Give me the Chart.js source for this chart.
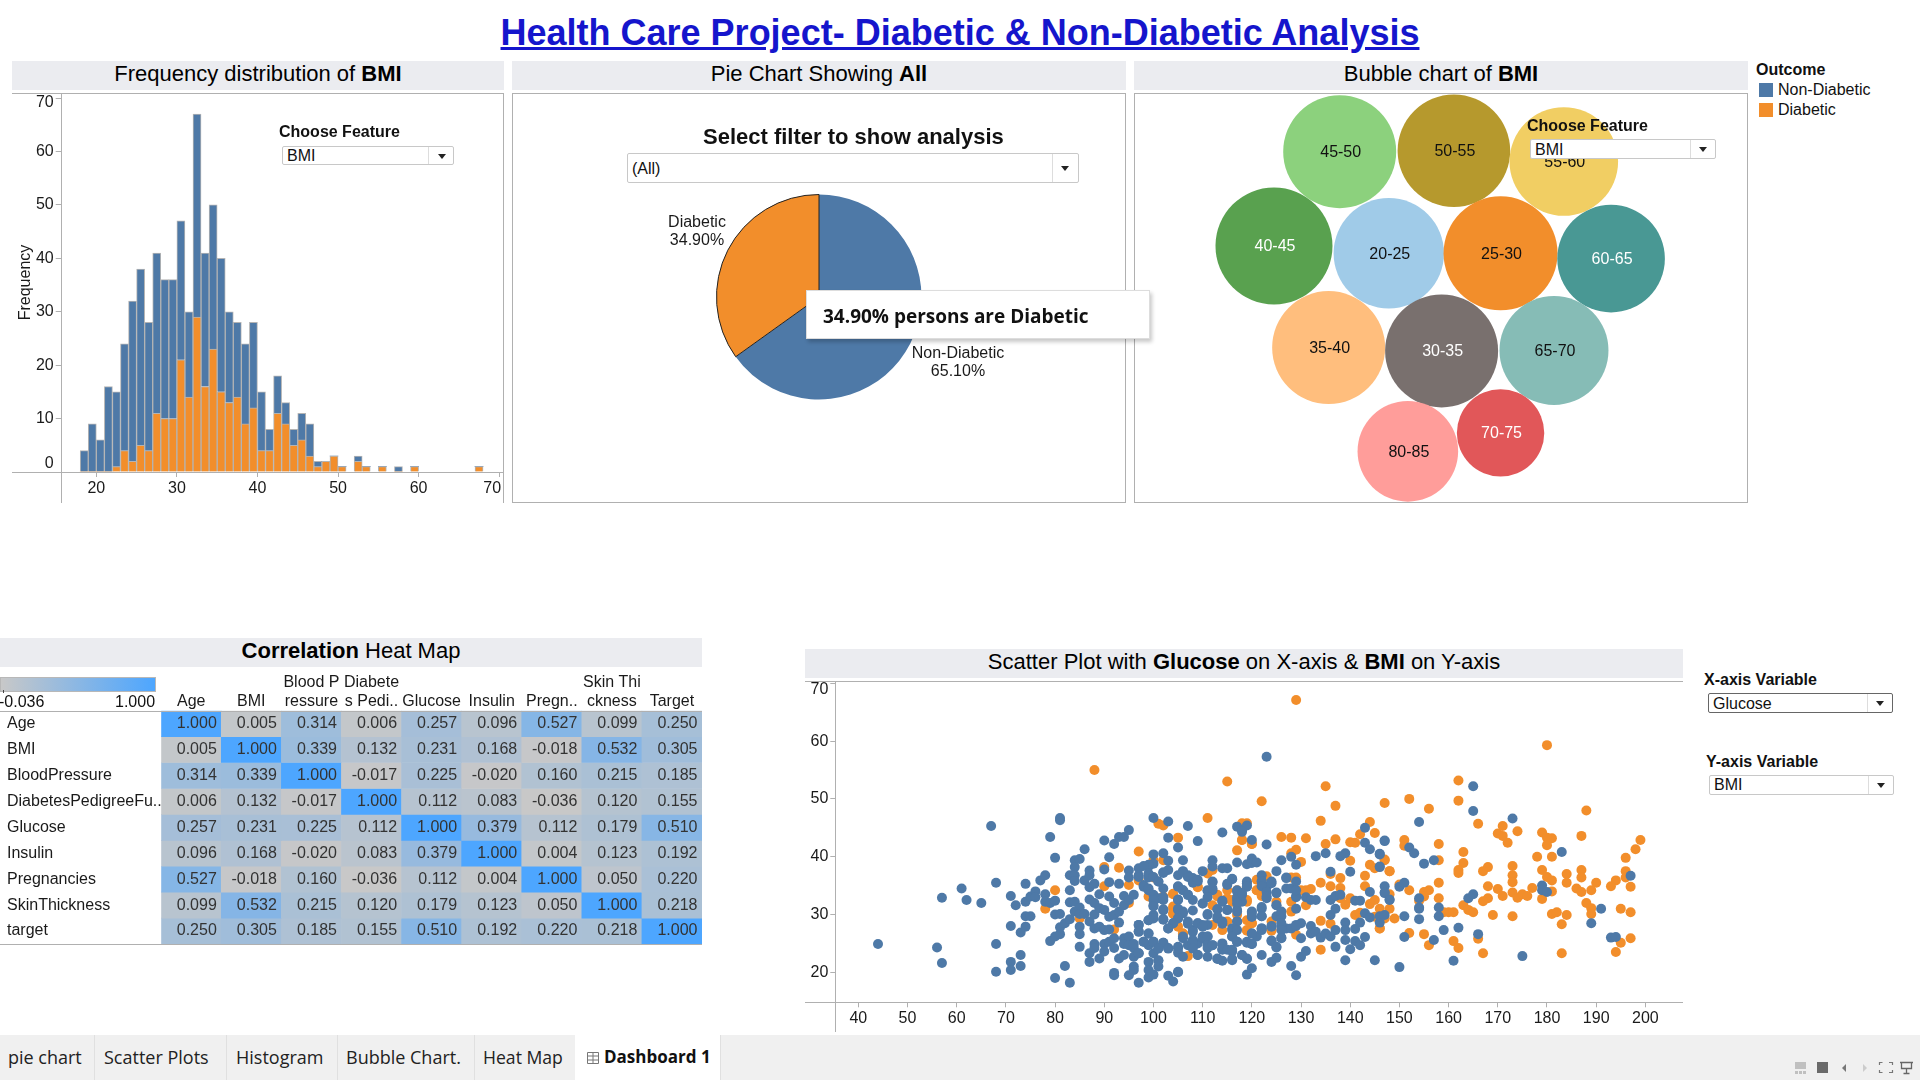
<!DOCTYPE html>
<html>
<head>
<meta charset="utf-8">
<title>Health Care Project</title>
<script src="https://cdn.jsdelivr.net/npm/chart.js@4"></script>
<style>
  html, body { margin: 0; padding: 0; background: #fff; }
  body { position: relative; width: 1920px; height: 1080px; overflow: hidden; font-family: "Liberation Sans", Arial, sans-serif; color: #111; }
  canvas, .abs { position: absolute; }
  .main-title { left: 0; width: 1920px; top: 12px; text-align: center; font-size: 36px; font-weight: bold; color: #1515cc; text-decoration: underline; }
  .band { background: #ebecf0; text-align: center; font-size: 22px; color: #000; white-space: nowrap; }
  .frame { box-sizing: border-box; border: 1px solid #b0b0b0; }
  .line { background: #b0b0b0; }
  .lbl { font-size: 16px; font-weight: bold; white-space: nowrap; line-height: 18px; }
  .dd { box-sizing: border-box; border: 1px solid #c8c8c8; border-radius: 2px; background: #fff; font-size: 16px; white-space: nowrap; padding-left: 4px; }
  .dd.dark { border-color: #666; }
  .dd i { position: absolute; top: 0; bottom: 0; width: 1px; background: #ddd; }
  .dd b { position: absolute; width: 0; height: 0; border: 4px solid transparent; border-top: 5px solid #222; border-bottom: 0; }
  .pop { box-sizing: border-box; left: 806px; top: 290px; width: 344px; height: 49px; background: #fff; border: 1px solid #ddd; box-shadow: 2px 3px 4px rgba(0,0,0,.22); font: bold 19px "Open Sans", sans-serif; line-height: 50px; padding-left: 16px; white-space: nowrap; color: #111; }
  .tabs { left: 0; top: 1035px; width: 1920px; height: 45px; background: #f0f0f0; }
  .tab { position: absolute; top: 0; height: 45px; line-height: 44px; font: 18px/44px "Open Sans", sans-serif; white-space: nowrap; color: #222; }
  .sep { position: absolute; top: 0; height: 45px; width: 1px; background: #e0e0e0; }
</style>
</head>
<body>
<div class="abs main-title">Health Care Project- Diabetic &amp; Non-Diabetic Analysis</div>

<!-- histogram panel -->
<div class="abs band" style="left:12px;top:61px;width:492px;height:29px;line-height:26px">Frequency distribution of <b>BMI</b></div>
<div class="abs line" style="left:12px;top:93px;width:492px;height:1px"></div>
<div class="abs line" style="left:503px;top:93px;width:1px;height:410px"></div>
<canvas id="histChart" width="492" height="410" style="left:12px;top:93px"></canvas>
<div class="abs lbl" style="left:279px;top:123px">Choose Feature</div>
<div class="abs dd" style="left:282px;top:146px;width:172px;height:19px;line-height:17px">BMI<i style="left:145px"></i><b style="left:155px;top:7px"></b></div>

<!-- pie panel -->
<div class="abs band" style="left:512px;top:61px;width:614px;height:29px;line-height:26px">Pie Chart Showing <b>All</b></div>
<div class="abs frame" style="left:512px;top:93px;width:614px;height:410px"></div>
<canvas id="pieChart" width="614" height="410" style="left:512px;top:93px"></canvas>
<div class="abs lbl" style="left:703px;top:124px;font-size:22px;line-height:26px">Select filter to show analysis</div>
<div class="abs dd" style="left:627px;top:153px;width:452px;height:30px;line-height:30px">(All)<i style="left:424px"></i><b style="left:433px;top:12px"></b></div>

<!-- bubble panel -->
<div class="abs band" style="left:1134px;top:61px;width:614px;height:29px;line-height:26px">Bubble chart of <b>BMI</b></div>
<div class="abs frame" style="left:1134px;top:93px;width:614px;height:410px"></div>
<canvas id="bubbleChart" width="614" height="410" style="left:1134px;top:93px"></canvas>
<div class="abs lbl" style="left:1527px;top:117px">Choose Feature</div>
<div class="abs dd" style="left:1530px;top:139px;width:186px;height:20px;line-height:20px">BMI<i style="left:159px"></i><b style="left:168px;top:7px"></b></div>

<!-- colour legend -->
<div class="abs lbl" style="left:1756px;top:61px">Outcome</div>
<div class="abs" style="left:1759px;top:83px;width:14px;height:14px;background:#4e79a7"></div>
<div class="abs" style="left:1778px;top:81px;font-size:16px;line-height:18px">Non-Diabetic</div>
<div class="abs" style="left:1759px;top:103px;width:14px;height:14px;background:#f28e2b"></div>
<div class="abs" style="left:1778px;top:101px;font-size:16px;line-height:18px">Diabetic</div>

<div class="abs pop">34.90% persons are Diabetic</div>

<!-- heat map panel -->
<div class="abs band" style="left:0;top:638px;width:702px;height:29px;line-height:26px"><b>Correlation</b> Heat Map</div>
<canvas id="heatChart" width="702" height="275" style="left:0;top:672px"></canvas>
<div class="abs line" style="left:0;top:711px;width:702px;height:1px"></div>
<div class="abs line" style="left:0;top:944px;width:702px;height:1px"></div>
<div class="abs" style="left:0;top:677px;width:156px;height:15px;box-sizing:border-box;border:1px solid #b8b8b8;background:linear-gradient(90deg,#c8c8c8,#4da6ff)"></div>
<div class="abs" style="left:3px;top:690px;width:1px;height:3px;background:#444"></div>
<div class="abs" style="left:-1px;top:693px;font-size:16px;line-height:18px">-0.036</div>
<div class="abs" style="left:115px;top:693px;font-size:16px;line-height:18px">1.000</div>

<!-- scatter panel -->
<div class="abs band" style="left:805px;top:649px;width:878px;height:29px;line-height:26px">Scatter Plot with <b>Glucose</b> on X-axis &amp; <b>BMI</b> on Y-axis</div>
<div class="abs line" style="left:805px;top:681px;width:878px;height:1px"></div>
<canvas id="scatterChart" width="878" height="351" style="left:805px;top:681px"></canvas>
<div class="abs lbl" style="left:1704px;top:671px">X-axis Variable</div>
<div class="abs dd dark" style="left:1708px;top:693px;width:185px;height:20px;line-height:20px">Glucose<i style="left:158px"></i><b style="left:167px;top:7px"></b></div>
<div class="abs lbl" style="left:1706px;top:753px">Y-axis Variable</div>
<div class="abs dd" style="left:1709px;top:775px;width:185px;height:20px;line-height:18px">BMI<i style="left:158px"></i><b style="left:167px;top:7px"></b></div>

<!-- sheet tabs -->
<div class="abs tabs">
  <div class="tab" style="left:8px">pie chart</div><div class="sep" style="left:94px"></div>
  <div class="tab" style="left:104px">Scatter Plots</div><div class="sep" style="left:226px"></div>
  <div class="tab" style="left:236px">Histogram</div><div class="sep" style="left:337px"></div>
  <div class="tab" style="left:346px">Bubble Chart.</div><div class="sep" style="left:474px"></div>
  <div class="tab" style="left:483px;font-size:17.6px">Heat Map</div>
  <div class="abs" style="left:575px;top:0;width:145px;height:45px;background:#fff"></div><div class="sep" style="left:720px"></div>
  <svg class="abs" style="left:587px;top:17px" width="12" height="12"><path d="M.5 .5h11v11h-11zM.5 4h11M.5 8h11M6 .5v11" fill="none" stroke="#777"/></svg>
  <div class="tab" style="left:604px;font-weight:bold;font-size:17px;color:#111">Dashboard 1</div>
  <svg class="abs" style="left:1795px;top:26px" width="120" height="14">
    <path d="M0 1h11v7H0zM0 10h3v3H0zM4 10h3v3H4zM8 10h3v3H8z" fill="#c0c0c0"/>
    <path d="M22 1h11v11H22z" fill="#6a6a6a"/>
    <path d="M51 3v8l-4-4z" fill="#777"/><path d="M68 3v8l4-4z" fill="#ccc"/>
    <path d="M84.500 4V1.500h3M94 1.500h3.500V4M97.500 9v2.500H94M87.500 11.500h-3V9" fill="none" stroke="#777" stroke-width="1.200"/>
    <path d="M105 1.500h13M106.500 2v5.500h10V2M111.500 7.500V12M108.500 12.500h6" fill="none" stroke="#666" stroke-width="1.300"/>
  </svg>
</div>

<script>
// histogram, one bin per BMI unit
const histBinStart = [18,19,20,21,22,23,24,25,26,27,28,29,30,31,32,33,34,35,36,37,38,39,40,41,42,43,44,45,46,47,48,49,50,52,53,55,57,59,67];
const histDiabetic = [0,0,0,0,1,4,2,5,4,11,10,10,21,14,29,16,23,15,13,14,9,12,4,4,11,9,5,6,3,1,2,3,1,2,1,1,0,1,1];
const histNonDiabetic = [4,9,6,16,14,20,30,33,24,30,26,26,26,16,38,25,27,25,17,14,15,16,11,4,7,4,3,5,6,1,0,0,0,1,0,0,1,0,0];
const histXTicks = [20,30,40,50,60,70];
const histYTicks = [0,10,20,30,40,50,60,70];

// pie
const pieCategories = ['Non-Diabetic','Diabetic'];
const pieShares = [65.10,34.90];

// packed bubbles, placed in percent of the panel
const bubbleLabels = ['45-50','50-55','55-60','40-45','20-25','25-30','60-65','35-40','30-35','65-70','80-85','70-75'];
const bubbleX = [33.5,52.1,70.0,22.8,41.5,59.7,77.7,31.7,50.1,68.4,44.6,59.7];
const bubbleY = [14.3,14.1,16.7,37.3,39.1,39.1,40.4,62.1,62.9,62.8,87.4,82.9];
const bubbleSize = [56.5,56.3,54.3,58.5,55.2,57,53.8,56.5,56.5,54.5,50.3,43.7];
const bubbleColors = ['#8cd17d','#b6992d','#f1ce63','#59a14f','#a0cbe8','#f28e2b','#499894','#ffbe7d','#79706e','#86bcb6','#ff9d9a','#e15759'];
const bubbleTextColors = ['#111','#111','#111','#fff','#111','#111','#fff','#111','#fff','#111','#111','#fff'];

// correlation table
const heatColumns = ['Age','BMI',['Blood P','ressure'],['Diabete','s Pedi..'],'Glucose','Insulin','Pregn..',['Skin Thi','ckness'],'Target'];
const heatRows = ['Age','BMI','BloodPressure','DiabetesPedigreeFu..','Glucose','Insulin','Pregnancies','SkinThickness','target'];
const corrAge = [1.000,0.005,0.314,0.006,0.257,0.096,0.527,0.099,0.250];
const corrBmi = [0.005,1.000,0.339,0.132,0.231,0.168,-0.018,0.532,0.305];
const corrPressure = [0.314,0.339,1.000,-0.017,0.225,-0.020,0.160,0.215,0.185];
const corrPedigree = [0.006,0.132,-0.017,1.000,0.112,0.083,-0.036,0.120,0.155];
const corrGlucose = [0.257,0.231,0.225,0.112,1.000,0.379,0.112,0.179,0.510];
const corrInsulin = [0.096,0.168,-0.020,0.083,0.379,1.000,0.004,0.123,0.192];
const corrPregnancies = [0.527,-0.018,0.160,-0.036,0.112,0.004,1.000,0.050,0.220];
const corrSkin = [0.099,0.532,0.215,0.120,0.179,0.123,0.050,1.000,0.218];
const corrTarget = [0.250,0.305,0.185,0.155,0.510,0.192,0.220,0.218,1.000];
const heatValues = [corrAge,corrBmi,corrPressure,corrPedigree,corrGlucose,corrInsulin,corrPregnancies,corrSkin,corrTarget];

// scatter, [glucose, bmi]
const scatterXTicks = [40,50,60,70,80,90,100,110,120,130,140,150,160,170,180,190,200];
const scatterYTicks = [20,30,40,50,60,70];
const nonDiabeticPoints = [
  [44,24.9],[56,24.3],[57,21.6],[57,32.9],[61,34.5],[62,32.5],[65,32],[67,45.3],[68,35.5],[68,24.9],[68,20.1],
  [71,33.2],[71,28],[71,21.8],[71,20.4],[72,31.6],[73,26.9],[73,23],[73,21.1],[74,35.3],[74,32.2],[74,29.7],[74,27.9],
  [75,29.7],[75,33.1],[76,34],[76,33],[77,35.9],[78,36.8],[78,33.5],[78,32.2],[79,43.4],[79,25.4],[79,32],
  [80,39.8],[80,32.4],[80,30],[80,26.2],[80,19],[81,46.7],[81,46.3],[81,30.1],[81,27.8],[81,26.6],[82,21.1],[82,28.5],
  [83,18.2],[83,36.8],[83,34.2],[83,32.1],[83,29.2],[84,39.4],[84,38.2],[84,36.8],[84,35.8],[84,32.2],[84,30.5],
  [85,39.6],[85,31.2],[85,30.1],[85,27.9],[85,26.6],[85,24.4],[86,41.3],[86,35.9],[86,30.1],
  [87,37.6],[87,36.8],[87,34.7],[87,32.6],[87,23.3],[87,21.8],[87,28.8],[88,35.3],[88,32],[88,30],[88,27.6],[88,24.9],[88,24.2],
  [89,33.5],[89,31.1],[89,22.4],[89,27.9],[90,42.8],[90,37.8],[90,30.8],[90,27.3],[90,24.9],[90,23.6],
  [91,39.9],[91,35.6],[91,33.1],[91,29.6],[91,27.4],[91,25.3],[92,42.2],[92,32],[92,29.9],[92,25.9],[92,24.2],[92,19.9],[92,19.5],
  [93,43.4],[93,35.3],[93,30.5],[93,28.6],[93,22.4],[94,43.4],[94,33.2],[94,31.6],[94,25.9],[94,24.9],[94,23],
  [95,44.6],[95,37.6],[95,36.4],[95,32.5],[95,26.2],[95,24.7],[95,19.5],[96,33.4],[96,24.2],[96,22.7],[96,21],
  [97,38],[97,36.8],[97,28.2],[97,27],[97,23.3],[97,18.2],[98,35.1],[98,25.3],
  [99,38.3],[99,36.4],[99,34.2],[99,29],[99,26.7],[99,24.7],[99,21.8],[99,20.4],[99,19.1],
  [100,46.7],[100,40.4],[100,38.8],[100,33.4],[100,31.6],[100,29.9],[100,25.3],[100,23.3],[100,19.6],
  [101,35.7],[101,32.8],[101,24.2],[101,22],[101,21],[102,40.6],[102,37.3],[102,34.5],[102,32.5],[102,30.7],[102,29.2],[102,25.1],
  [103,46.1],[103,43.3],[103,39.3],[103,37.7],[103,27.6],[103,24.2],[103,19.4],[104,18.4],[104,28.5],
  [105,41.6],[105,36.8],[105,34.8],[105,32.5],[105,30.8],[105,29.3],[105,24.4],[105,23.4],[105,20],
  [106,39.4],[106,37.5],[106,34.2],[106,30.5],[106,25.9],[106,22.7],[107,45.3],[107,36.8],[107,33.4],[107,28.8],[107,24.7],
  [108,36.3],[108,32.5],[108,30.7],[108,27.3],[108,25.3],[109,42.7],[109,35.7],[109,28.5],[109,25],[109,23],
  [110,37.5],[110,31.9],[110,28.2],[110,25.9],[111,34.2],[111,30.1],[111,28.2],[111,26.2],[111,24.2],[111,22.7],
  [112,39.4],[112,38.3],[112,35.7],[112,34.2],[112,24.7],[113,30.9],[113,29.3],[113,22.4],
  [114,44.2],[114,38],[114,32.2],[114,28.4],[114,24.9],[114,23.9],[114,22],[115,38],[115,35.1],[115,30.8],
  [116,36.2],[116,27.3],[116,26.2],[116,23.6],[116,22.1],[117,45.2],[117,39],[117,34],[117,32.5],[117,30.8],[117,28.8],[117,25.3],
  [118,44.6],[118,33.4],[118,32.2],[118,23],[119,45.4],[119,38.7],[119,35.4],[119,34.8],[119,25.1],[119,22.4],[119,19.6],
  [120,42.9],[120,39.7],[120,38.9],[120,30.5],[120,29.6],[120,26.7],[120,24.9],[120,20.7],[121,39],[121,26.2],
  [122,36.8],[122,35.7],[122,31],[122,29.7],[122,27.6],[122,23],[123,57.3],[123,42.1],[123,34.8],[123,32.8],
  [124,35.7],[124,28],[124,25.5],[124,21.8],[125,37.5],[125,33.7],[125,31.6],[125,29.7],[125,24.3],[125,22.5],
  [126,39.4],[126,29.7],[126,28],[126,26],[127,36.3],[127,34.5],[127,27.6],[128,40],[128,34.5],[128,27.6],[128,21.1],
  [129,38.6],[129,35.7],[129,33.2],[129,31],[129,28],[129,19.5],[129,33],
  [130,28.5],[130,25.9],[130,22.7],[131,33],[131,23.7],[132,32.5],[132,28],[132,26.7],[133,40.1],[133,32.5],[133,27],
  [134,26],[135,40.6],[135,26.7],[136,37.4],[136,32.5],[136,29.9],[136,26.2],[137,33.2],[137,31],[137,27.3],[137,24.4],
  [138,40.1],[138,33.4],[139,40.6],[139,28.6],[139,27.3],[139,25.6],[139,22.1],[140,37.4],[140,24],
  [141,32.4],[141,27.5],[141,25.4],[142,32.4],[142,28.6],[142,24.7],[143,45],[143,42.4],[143,30.2],[143,26.1],
  [144,41.3],[144,33.9],[144,29.5],[145,22.1],[146,40.5],[146,38.3],[146,40.4],[146,38.2],[146,29.7],[146,28.6],
  [147,42.8],[147,34.9],[147,33.7],[147,42.7],[147,33.8],[147,29.9],[148,32.6],[148,32.5],
  [150,34.8],[150,20.9],[151,35.5],[151,29.7],[151,26.1],[152,41.6],[153,40.6],[154,46],[154,32.8],[154,31.2],[154,31],[154,29.2],
  [155,38.8],[157,39.4],[157,25.6],[158,31.2],[158,29.7],[159,27.3],[161,22],[162,27.7],[164,32.8],[165,52.2],[165,47.9],[165,33.5],
  [166,26.6],[173,46.6],[175,22.8],[179,35],[179,34.2],[180,33.9],[183,40.8],[189,28.5],[191,31],[193,26],[194,26.1],[197,36.7],
  // second pass over the crowded middle
  [118,44.3],[99,38.6],[98,38.4],[97,36.5],[99,37.1],[100,36.5],[102,37.2],[106,37.4],[107,36.5],[108,35.5],[109,36],[112,35.6],
  [116,36.1],[115,35.3],[119,35.7],[119,34.9],[122,35.8],[124,35.4],[127,36.4],[129,34.2],[98,34.8],[99,34.5],[101,35.7],[105,34.9],
  [106,34.2],[107,33.4],[111,34.1],[112,34.5],[117,34.2],[117,33],[118,33.7],[122,34.9],[123,33.9],[125,33.8],[123,33.1],[100,32.5],
  [102,33],[105,32.6],[110,31.9],[111,33],[114,32.4],[117,31.9],[120,30.3],[120,29.6],[122,31.3],[122,29.7],[125,31.6],[126,30.5],
  [100,31.4],[102,30.9],[105,31],[106,30.2],[100,29.3],[102,29.1],[99,29],[105,29.4],[107,28.4],[111,29.9],[113,30.9],[115,30.8],
  [113,29.6],[114,28.8],[117,30.5],[117,28.8],[116,27.6],[122,27.6],[124,27.9],[126,28.5],[126,27.3],[129,28.2],[97,28.2],[97,27.1],
  [104,28.5],[103,27.6],[109,28.5],[110,27.9],[117,27.3],[120,26.7],[122,27.3],[99,26.7],[108,27],[106,26.2],[108,25.6],[110,26.2],
  [111,26.2],[116,26.2],[117,25.3],[119,25.3],[120,24.9],[124,25.4],[126,25.9],[98,25.3],[100,25.3],[102,25.1],[96,24.9],[97,23.3],
  [101,24.1],[103,24.1],[105,24.1],[108,25],[108,24.1],[109,23],[111,24.7],[112,24.7],[114,25],[114,24],[115,23.9],[113,22.3],[116,23.9],
  [116,22.3],[118,23],[119,22.3],[125,24.4],[101,22.1],[105,20.1],[96,20.4]
];
const diabeticPoints = [
  [88,55],[115,53],[122,49.6],[129,67.1],[111,46.7],[101,45.7],[102,45.4],[105,43.3],[118,45.8],[119,45.8],[118,42.9],[120,42.2],
  [126,43.4],[128,43.3],[117,41.1],[97,40.9],[93,38.1],[90,38.2],[90,34.9],[80,34.2],[78,31],[95,35.1],[95,32],[85,29.3],[92,27.4],
  [97,35.9],[102,39.4],[100,39.4],[100,36.4],[99,33.1],[102,33.1],[104,33.6],[104,31],[104,30.1],[105,27.9],[106,26.7],[107,22.8],
  [109,34.7],[111,37.1],[112,37.7],[112,31.6],[112,28.2],[113,33.1],[114,27.3],[115,34.2],[115,32.8],[115,28.8],[116,32.2],[117,34.2],
  [117,29.9],[119,32.2],[119,29],[119,27.3],[120,28.5],[121,36],[121,34.2],[122,33.2],[123,36.6],[124,28.8],[124,27.4],[125,32.2],
  [128,36.4],[128,32.2],[128,30.5],[129,41.2],[128,40.6],[129,26.5],[129,36.4],
  [135,52.2],[137,48.8],[147,49.3],[134,46.2],[144,46],[145,44.1],[142,43.9],[135,42.2],[137,43],[140,42.5],[141,42.4],[131,43.2],
  [140,39.3],[144,38.6],[145,38],[147,39.5],[148,37.5],[143,36.7],[143,34.9],[138,36.3],[136,37],[134,35.5],[136,34.9],[138,34.6],
  [132,34.4],[131,34.2],[130,34.2],[138,32.8],[139,31.7],[140,32.8],[144,31.8],[145,32.5],[146,31],[145,29.6],[141,29.9],[142,30.3],
  [134,28.9],[136,28.4],[146,27.6],[134,23.9],[131,31.6],
  [180,59.3],[162,53.2],[162,49.7],[152,50],[156,48.3],[188,48],[166,45.7],[171,45.3],[174,44.4],[170,44],[171,43.6],[172,42.4],
  [179,44.2],[181,43.2],[180,43.3],[180,42],[187,43.6],[199,42.9],[198,41.3],[196,39.8],[151,42.9],[151,41.9],[158,42.2],[163,40.8],
  [158,39.4],[178,40],[181,40],[147,39.4],[148,37.5],[163,38.9],[162,37.7],[162,37.2],[168,38.2],[167,37.5],[173,38.4],[173,36.8],
  [173,35.6],[179,37.7],[180,36.5],[181,35.9],[184,37],[184,35.5],[187,37.7],[187,36.4],[196,37.5],[196,36.4],[197,34.8],[194,35.9],
  [193,34.9],[190,35.5],[189,34.2],[186,34.5],[187,33.9],[158,35.5],[150,35.2],[152,34.2],[148,33.5],[156,34.2],[155,33.9],[155,33.1],
  [154,32.4],[158,32.8],[168,34.9],[170,34.4],[171,33.2],[168,32.8],[167,32.3],[173,33.8],[174,32.9],[175,33.5],[176,33.2],[177,34.6],
  [181,34],[179,32.7],[163,31.6],[164,30.8],[165,30.4],[161,30.4],[160,30.4],[159,30.4],[148,31],[147,29.3],[149,29.3],[169,29.9],
  [173,29.7],[181,30.1],[182,30.4],[184,29.9],[183,28.3],[188,32],[189,31.1],[189,30.1],[195,31],[197,30.4],[152,26.8],[155,26.6],
  [156,24.7],[161,25.4],[162,24.2],[166,25.8],[167,23.3],[183,23.3],[195,25.1],[194,23.5],[197,25.9],[146,27.6],
  [118,42.9],[120,42.2],[130,39.1],[122,36.6],[113,33.4],[116,32.5],[121,34.2],[119,32.5],[104,33.5],[104,31.4],[104,30.2],[109,34.8],
  [120,28.5],[124,27.2],[119,27.2],[106,26.7]
];

const BLUE = '#4e79a7', ORANGE = '#f28e2b', AXIS = '#b0b0b0', INK = '#1a1a1a';
const FONT = '"Liberation Sans", Arial, sans-serif';
Chart.defaults.animation = false;
Chart.defaults.font.family = FONT;
Chart.defaults.font.size = 16;
Chart.defaults.color = INK;
Chart.defaults.layout.autoPadding = false;
Chart.defaults.plugins.legend.display = false;
Chart.defaults.plugins.tooltip.enabled = false;

// Tableau pushes the end tick labels inwards, do the same
const nudgeLabels = {
  id: 'nudgeLabels',
  afterLayout(chart, args, opts) {
    for (const id of Object.keys(opts.shift || {})) {
      const scale = chart.scales[id];
      scale.getLabelItems(chart.chartArea).forEach(item => {
        const d = opts.shift[id][item.label];
        if (d) {
          item.options.translation[0] += d[0];
          item.options.translation[1] += d[1];
        }
      });
    }
  }
};

// axis lines run past the plot area up to the panel edges
const longAxes = {
  id: 'longAxes',
  afterDraw(chart) {
    const { ctx, chartArea: a, width, height } = chart;
    ctx.save();
    ctx.strokeStyle = AXIS;
    ctx.lineWidth = 1;
    ctx.beginPath();
    ctx.moveTo(Math.round(a.left) + 0.5, 0);
    ctx.lineTo(Math.round(a.left) + 0.5, height);
    ctx.moveTo(0, Math.round(a.bottom) + 0.5);
    ctx.lineTo(width, Math.round(a.bottom) + 0.5);
    ctx.stroke();
    ctx.restore();
  }
};

function fixedAxis(size) {
  return function (scale) {
    if (scale.isHorizontal()) scale.height = size; else scale.width = size;
    scale.paddingLeft = scale.paddingRight = scale.paddingTop = scale.paddingBottom = 0;
  };
}

function axisOptions(min, max, tickValues, size) {
  return {
    type: 'linear',
    min: min,
    max: max,
    offset: false,
    afterBuildTicks: s => { s.ticks = tickValues.map(v => ({ value: v })); },
    afterFit: fixedAxis(size),
    border: { display: false },
    grid: { drawOnChartArea: false, color: AXIS, tickColor: AXIS, tickLength: 5, offset: false },
    ticks: { autoSkip: false, maxRotation: 0, padding: 2, color: INK, font: { size: 16 } }
  };
}

const histX = axisOptions(15.58, 70.6, histXTicks, 31);
histX.stacked = true;
const histY = axisOptions(0, 70.94, histYTicks, 48.7);
histY.stacked = true;
histY.title = { display: true, text: 'Frequency', padding: { top: 4, bottom: 0 }, color: INK, font: { size: 16 } };

function histDataset(values, color) {
  return {
    data: values.map((v, i) => ({ x: histBinStart[i] + 0.5, y: v })),
    backgroundColor: color,
    borderColor: '#b4b4b4',
    borderWidth: c => (c.raw && c.raw.y ? 1 : 0),
    barPercentage: 1,
    categoryPercentage: 1
  };
}

new Chart(document.getElementById('histChart'), {
  type: 'bar',
  data: { datasets: [histDataset(histDiabetic, ORANGE), histDataset(histNonDiabetic, BLUE)] },
  options: {
    responsive: false,
    scales: { x: histX, y: histY },
    plugins: { nudgeLabels: { shift: { x: { '70': [-7, 0] }, y: { '70': [0, 5], '0': [0, -8] } } } }
  },
  plugins: [nudgeLabels, longAxes]
});

// two line captions next to the slices
const pieCaptions = {
  id: 'pieCaptions',
  afterDraw(chart) {
    const { ctx } = chart;
    const arc = chart.getDatasetMeta(0).data[0];
    const spots = [[139, 65.5], [-122, -65]];
    ctx.save();
    ctx.font = '16px ' + FONT;
    ctx.fillStyle = INK;
    ctx.textAlign = 'center';
    ctx.textBaseline = 'middle';
    pieCategories.forEach((name, i) => {
      ctx.fillText(name, arc.x + spots[i][0], arc.y + spots[i][1] - 9);
      ctx.fillText(pieShares[i].toFixed(2) + '%', arc.x + spots[i][0], arc.y + spots[i][1] + 9);
    });
    ctx.restore();
  }
};

new Chart(document.getElementById('pieChart'), {
  type: 'pie',
  data: {
    labels: pieCategories,
    datasets: [{
      data: pieShares,
      backgroundColor: [BLUE, ORANGE],
      borderColor: ['rgba(0,0,0,0)', '#222'],
      borderWidth: [0, 1]
    }]
  },
  options: {
    responsive: false,
    layout: { padding: { top: 101, bottom: 103 } }
  },
  plugins: [pieCaptions]
});

const bubbleNames = {
  id: 'bubbleNames',
  afterDraw(chart) {
    const { ctx } = chart;
    ctx.save();
    ctx.font = '16px ' + FONT;
    ctx.textAlign = 'center';
    ctx.textBaseline = 'middle';
    chart.getDatasetMeta(0).data.forEach((pt, i) => {
      ctx.fillStyle = bubbleTextColors[i];
      ctx.fillText(bubbleLabels[i], pt.x + 1, pt.y + 1);
    });
    ctx.restore();
  }
};

new Chart(document.getElementById('bubbleChart'), {
  type: 'bubble',
  data: {
    datasets: [{
      data: bubbleLabels.map((n, i) => ({ x: bubbleX[i], y: bubbleY[i], r: bubbleSize[i] })),
      backgroundColor: bubbleColors,
      borderWidth: 0,
      clip: false
    }]
  },
  options: {
    responsive: false,
    scales: {
      x: { display: false, min: 0, max: 100 },
      y: { display: false, min: 0, max: 100, reverse: true }
    }
  },
  plugins: [bubbleNames]
});

function heatColor(v) {
  const t = (v + 0.036) / 1.036;
  const r = Math.round(200 + (77 - 200) * t);
  const g = Math.round(200 + (166 - 200) * t);
  const b = Math.round(200 + (255 - 200) * t);
  return 'rgb(' + r + ',' + g + ',' + b + ')';
}

const heatCellText = {
  id: 'heatCellText',
  afterDraw(chart) {
    const { ctx } = chart;
    ctx.save();
    ctx.font = '16px ' + FONT;
    ctx.fillStyle = '#333';
    ctx.textAlign = 'right';
    ctx.textBaseline = 'middle';
    heatValues.forEach((row, r) => {
      chart.getDatasetMeta(r).data.forEach((bar, c) => {
        ctx.fillText(row[c].toFixed(3), bar.x + bar.width / 2 - 4.5, (bar.y + bar.base) / 2);
      });
    });
    ctx.restore();
  }
};

new Chart(document.getElementById('heatChart'), {
  type: 'bar',
  data: {
    labels: heatColumns,
    datasets: heatValues.map((row, r) => ({
      data: row.map(() => [r, r + 1]),
      backgroundColor: row.map(heatColor),
      barPercentage: 1,
      categoryPercentage: 1,
      grouped: false
    }))
  },
  options: {
    responsive: false,
    layout: { padding: { left: 7, bottom: 3 } },
    scales: {
      x: {
        position: 'top',
        afterFit: fixedAxis(38.7),
        border: { display: false },
        grid: { display: false },
        ticks: { autoSkip: false, maxRotation: 0, padding: -8, color: INK, font: { size: 16, lineHeight: 1.19 } }
      },
      y: {
        type: 'linear',
        min: 0,
        max: 9,
        reverse: true,
        afterBuildTicks: s => { s.ticks = heatRows.map((n, i) => ({ value: i + 0.5 })); },
        afterFit: fixedAxis(154.2),
        border: { display: false },
        grid: { display: false },
        ticks: { autoSkip: false, crossAlign: 'far', padding: 0, color: INK, font: { size: 16 }, callback: (v, i) => heatRows[i] }
      }
    }
  },
  plugins: [heatCellText]
});

function scatterDataset(points, color) {
  return {
    data: points.map(p => ({ x: p[0], y: p[1] })),
    backgroundColor: color,
    borderWidth: 0,
    pointRadius: 5,
    clip: false
  };
}

new Chart(document.getElementById('scatterChart'), {
  type: 'scatter',
  data: { datasets: [scatterDataset(nonDiabeticPoints, BLUE), scatterDataset(diabeticPoints, ORANGE)] },
  options: {
    responsive: false,
    scales: {
      x: axisOptions(35.32, 207.65, scatterXTicks, 29.7),
      y: axisOptions(14.81, 70.4, scatterYTicks, 30.3)
    },
    plugins: { nudgeLabels: { shift: { y: { '70': [0, 6] } } } }
  },
  plugins: [nudgeLabels, longAxes]
});
</script>
</body>
</html>
